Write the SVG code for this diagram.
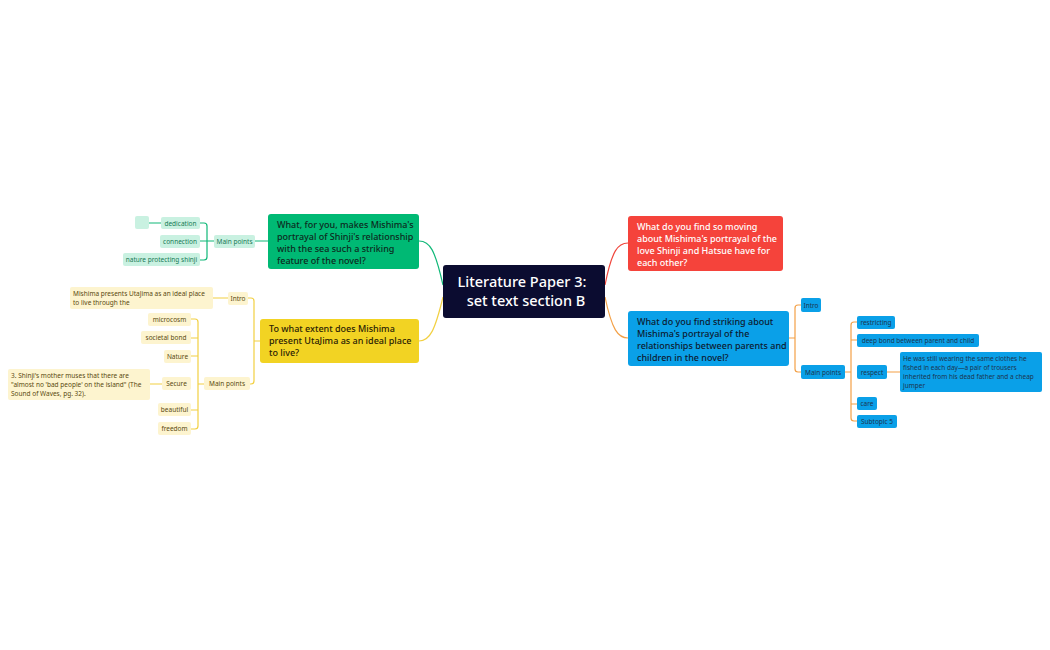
<svg xmlns="http://www.w3.org/2000/svg" width="1050" height="650" viewBox="0 0 1050 650">
<style>
text{font-family:"Noto Sans","Liberation Sans",sans-serif}
.t{font-size:9px;font-weight:500}
.s{font-size:6.5px}
.g{fill:#c9f1e1}.gt{fill:#167a55}
.y{fill:#fdf4cf}.yt{fill:#5a4a10}
.b{fill:#0aa0e8}.bt{fill:#1c3550}
.cg{stroke:#10b878;fill:none;stroke-width:1.2}
.cy{stroke:#f2d042;fill:none;stroke-width:1.2}
.co{stroke:#f3a046;fill:none;stroke-width:1.2}
.cr{stroke:#f0463c;fill:none;stroke-width:1.2}
</style>
<rect width="1050" height="650" fill="#fff"/>
<g id="connectors">
<path class="cg" d="M443,285 C435,250 430,241 419,241"/>
<path class="cr" d="M605,285 C612,250 618,243 628,243"/>
<path class="co" d="M605,297 C612,330 618,338 628,338"/>
<path class="cy" d="M443,297 C435,330 430,341 419,341"/>
<path class="cg" d="M268,241 H255 M214,241 H200 M200,223 H204 Q207,223 207,226 V257 Q207,260 204,260 H200 M161,223 H149"/>
<path class="cy" d="M260,341 H254 M248,298 H251 Q254,298 254,301 V381 Q254,384 251,384 H250 M228,298 H213 M204,384 H198 M191,319 H195 Q198,319 198,322 V426 Q198,429 195,429 H191 M191,338 H198 M191,356 H198 M191,410 H198 M162,384 H150"/>
<path class="co" d="M789,338 H795 M801,305 H798 Q795,305 795,308 V369 Q795,372 798,372 H801 M845,372 H851 M857,322 H854 Q851,322 851,325 V418 Q851,421 854,421 H857 M857,340 H851 M857,404 H851 M887,372 H900"/>
</g>
<g id="center"><rect x="443" y="265" width="162" height="53" rx="3" fill="#0b0c30"/>
<text x="522" y="287" font-size="14.5" fill="#fff" text-anchor="middle" font-weight="500">Literature Paper 3:</text>
<text x="526" y="306" font-size="14.5" fill="#fff" text-anchor="middle" font-weight="500">set text section B</text></g>
<g id="green"><rect x="268" y="214" width="151" height="55" rx="3" fill="#00b974"/>
<text class="t" fill="#0d2a20"><tspan x="277" y="228">What, for you, makes Mishima's</tspan><tspan x="277" y="240">portrayal of Shinji's relationship</tspan><tspan x="277" y="252">with the sea such a striking</tspan><tspan x="277" y="264">feature of the novel?</tspan></text></g>
<g id="red"><rect x="628" y="216" width="155" height="55" rx="3" fill="#f5433b"/>
<text class="t" fill="#fff"><tspan x="637" y="230">What do you find so moving</tspan><tspan x="637" y="242">about Mishima's portrayal of the</tspan><tspan x="637" y="254">love Shinji and Hatsue have for</tspan><tspan x="637" y="266">each other?</tspan></text></g>
<g id="blue"><rect x="628" y="311" width="161" height="55" rx="3" fill="#0aa0e8"/>
<text class="t" fill="#0d1a30"><tspan x="637" y="325">What do you find striking about</tspan><tspan x="637" y="337">Mishima's portrayal of the</tspan><tspan x="637" y="349">relationships between parents and</tspan><tspan x="637" y="361">children in the novel?</tspan></text></g>
<g id="yellow"><rect x="260" y="319" width="159" height="44" rx="3" fill="#f2d323"/>
<text class="t" fill="#2a2205"><tspan x="269" y="332">To what extent does Mishima</tspan><tspan x="269" y="344">present UtaJima as an ideal place</tspan><tspan x="269" y="356">to live?</tspan></text></g>
<g id="g-main"><rect class="g" x="214" y="235" width="41" height="13" rx="2"/><text class="s gt" x="234.5" y="244" text-anchor="middle">Main points</text></g>
<g id="g-ded"><rect class="g" x="161" y="217" width="39" height="12" rx="2"/><text class="s gt" x="180.5" y="226" text-anchor="middle">dedication</text></g>
<g id="g-blank"><rect class="g" x="135" y="216" width="14" height="13" rx="2"/></g>
<g id="g-con"><rect class="g" x="160" y="235" width="40" height="13" rx="2"/><text class="s gt" x="180" y="244" text-anchor="middle">connection</text></g>
<g id="g-nat"><rect class="g" x="123" y="253" width="77" height="13" rx="2"/><text class="s gt" x="161.5" y="262" text-anchor="middle">nature protecting shinji</text></g>
<g id="y-intro"><rect class="y" x="228" y="292" width="20" height="13" rx="2"/><text class="s yt" x="238" y="301" text-anchor="middle">Intro</text></g>
<g id="y-introtext"><rect class="y" x="70" y="287" width="143" height="22" rx="2"/><text class="s yt"><tspan x="73" y="296">Mishima presents UtaJima as an ideal place</tspan><tspan x="73" y="305">to live through the</tspan></text></g>
<g id="y-main"><rect class="y" x="204" y="377" width="46" height="13" rx="2"/><text class="s yt" x="227" y="386" text-anchor="middle">Main points</text></g>
<g id="y-micro"><rect class="y" x="148" y="313" width="43" height="13" rx="2"/><text class="s yt" x="169.5" y="322" text-anchor="middle">microcosm</text></g>
<g id="y-soc"><rect class="y" x="141" y="331" width="50" height="13" rx="2"/><text class="s yt" x="166" y="340" text-anchor="middle">societal bond</text></g>
<g id="y-nat"><rect class="y" x="164" y="350" width="27" height="13" rx="2"/><text class="s yt" x="177.5" y="359" text-anchor="middle">Nature</text></g>
<g id="y-sec"><rect class="y" x="162" y="377" width="29" height="13" rx="2"/><text class="s yt" x="176.5" y="386" text-anchor="middle">Secure</text></g>
<g id="y-sectext"><rect class="y" x="8" y="369" width="142" height="31" rx="2"/><text class="s yt"><tspan x="11" y="378">3. Shinji's mother muses that there are</tspan><tspan x="11" y="387">"almost no 'bad people' on the island" (The</tspan><tspan x="11" y="396">Sound of Waves, pg. 32).</tspan></text></g>
<g id="y-beau"><rect class="y" x="158" y="403" width="33" height="13" rx="2"/><text class="s yt" x="174.5" y="412" text-anchor="middle">beautiful</text></g>
<g id="y-free"><rect class="y" x="158" y="422" width="33" height="13" rx="2"/><text class="s yt" x="174.5" y="431" text-anchor="middle">freedom</text></g>
<g id="b-intro"><rect class="b" x="801" y="298" width="20" height="14" rx="2"/><text class="s bt" x="811" y="307.5" text-anchor="middle">Intro</text></g>
<g id="b-main"><rect class="b" x="801" y="365" width="44" height="14" rx="2"/><text class="s bt" x="823" y="374.5" text-anchor="middle">Main points</text></g>
<g id="b-res"><rect class="b" x="857" y="316" width="38" height="13" rx="2"/><text class="s bt" x="876" y="325" text-anchor="middle">restricting</text></g>
<g id="b-deep"><rect class="b" x="857" y="334" width="122" height="13" rx="2"/><text class="s bt" x="918" y="343" text-anchor="middle">deep bond between parent and child</text></g>
<g id="b-resp"><rect class="b" x="857" y="365" width="30" height="14" rx="2"/><text class="s bt" x="872" y="374.5" text-anchor="middle">respect</text></g>
<g id="b-quote"><rect class="b" x="900" y="352" width="142" height="40" rx="2"/><text class="s bt"><tspan x="903" y="361">He was still wearing the same clothes he</tspan><tspan x="903" y="370">fished in each day—a pair of trousers</tspan><tspan x="903" y="379">inherited from his dead father and a cheap</tspan><tspan x="903" y="388">jumper</tspan></text></g>
<g id="b-care"><rect class="b" x="857" y="397" width="20" height="13" rx="2"/><text class="s bt" x="867" y="406" text-anchor="middle">care</text></g>
<g id="b-sub5"><rect class="b" x="857" y="415" width="40" height="13" rx="2"/><text class="s bt" x="877" y="424" text-anchor="middle">Subtopic 5</text></g>
</svg>
